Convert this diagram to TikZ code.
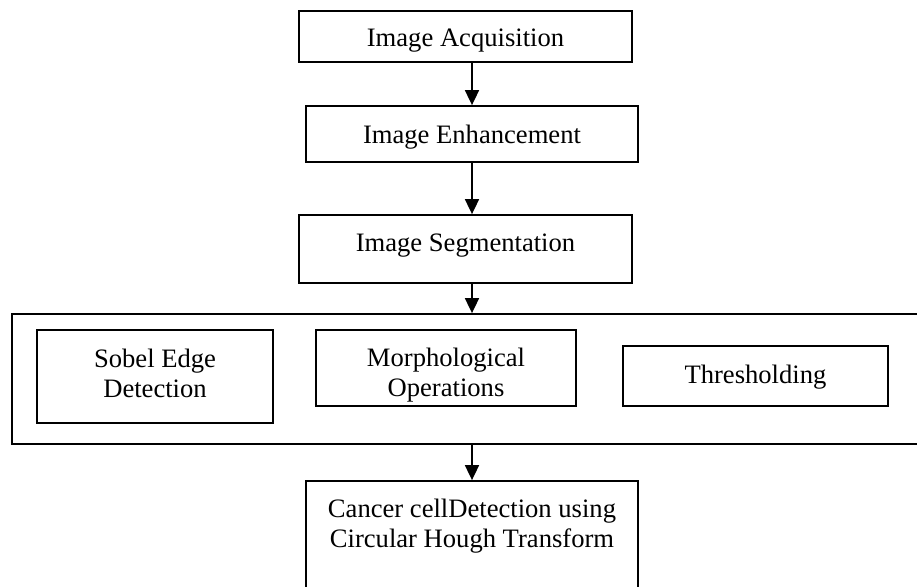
\documentclass[tikz,border=0pt]{standalone}
\usepackage{fontspec}
\setmainfont{Liberation Serif}
\usetikzlibrary{arrows.meta}
\begin{document}
\begin{tikzpicture}[x=0.5pt, y=-0.5pt, line width=0.9pt,
        >={Triangle[width=7pt,length=7.5pt]},
        procbox/.style={draw, inner sep=0pt, align=center, font=\fontsize{13.3}{15}\selectfont}]
        \clip (0,0) rectangle (917,586);
        \node[procbox, minimum width=166.5pt, text height=17.5pt, text depth=8pt] at(465.5, 36.5) (acq) {Image Acquisition};
        \node[procbox, minimum width=166pt, text height=18.5pt, text depth=9.5pt] at(472, 134) (enh) {Image Enhancement};
        \node[procbox, minimum width=166.5pt, text height=18pt, text depth=16pt] at(465.5, 249) (seg) {Image Segmentation};
        \node[procbox, minimum width=456.5pt, minimum height=65pt] at(468.5, 379) (segstage) {};
        \node[procbox, minimum width=118pt, text height=33.5pt, text depth=13pt] at(155, 376.5) (sobel) {Sobel Edge\\Detection};
        \node[procbox, minimum width=130pt, text height=33pt, text depth=5pt] at(446, 368) (morph) {Morphological\\Operations};
        \node[procbox, minimum width=132.5pt, text height=18.5pt, text depth=11.5pt] at(755.5, 376) (thres) {Thresholding};
        \node[procbox, minimum width=166pt, text height=33pt, text depth=27pt] at(472, 541) (cancer) {Cancer cellDetection using\\Circular Hough Transform};
        \draw[->] (acq.south -| enh.north) -- (enh.north);
        \draw[->] (enh.south) -- (enh.south |- seg.north);
        \draw[->] (seg.south -| enh.south) -- (enh.south |- segstage.north);
        \draw[->] (segstage.south -| cancer.north) -- (cancer.north);
    \end{tikzpicture}
\end{document}
